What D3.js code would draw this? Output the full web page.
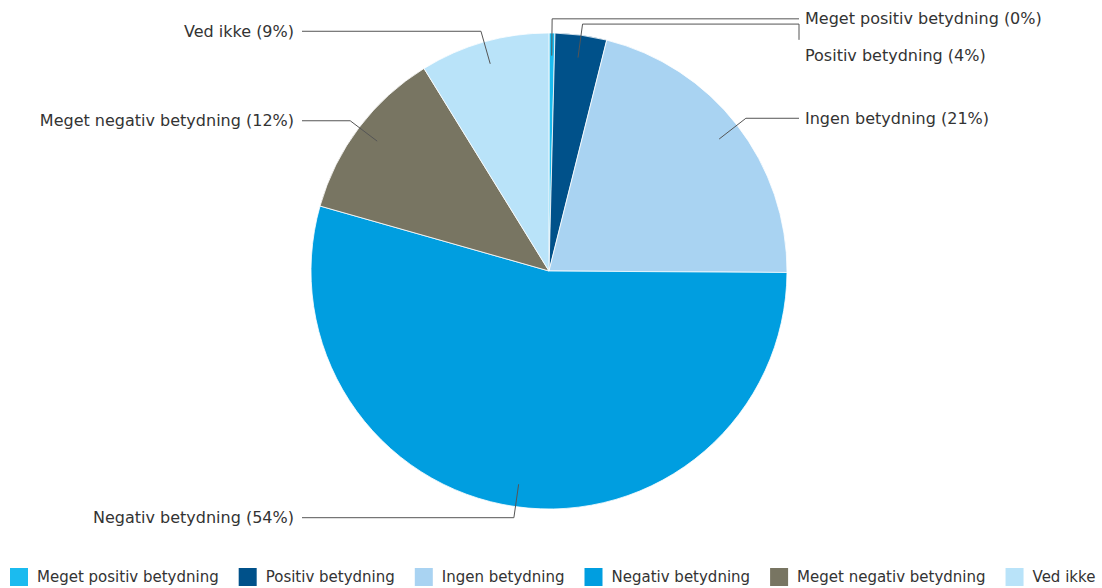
<!DOCTYPE html>
<html>
<head>
<meta charset="utf-8">
<script src="https://cdn.jsdelivr.net/npm/d3@7"></script>
<style>
  body { margin: 0; background: #fff; }
  text { font-family: "DejaVu Sans", Verdana, sans-serif; fill: #333; }
  .lbl { font-size: 16px; }
  .leg { font-size: 15px; }
</style>
</head>
<body>
<svg id="chart" width="1102" height="588"></svg>
<script>
const categories = ['Meget positiv betydning', 'Positiv betydning', 'Ingen betydning',
    'Negativ betydning', 'Meget negativ betydning', 'Ved ikke'];
const values = [0.4, 3.5, 21.2, 54.3, 11.8, 8.8];
const colors = ['#1bbbef', '#00518a', '#a9d3f2', '#009ee0', '#787562', '#b9e3f9'];

const width = 1102, height = 588;
const cx = 549, cy = 271, r = 238;

const svg = d3.select('#chart');
const total = d3.sum(values);

const data = categories.map((c, i) => ({ name: c, value: values[i], color: colors[i] }));

const pie = d3.pie().sort(null).value(d => d.value);
const arcs = pie(data);
const arc = d3.arc().innerRadius(0).outerRadius(r);

const g = svg.append('g').attr('transform', `translate(${cx},${cy})`);

g.selectAll('path')
    .data(arcs)
    .join('path')
    .attr('d', arc)
    .attr('fill', d => d.data.color)
    .attr('stroke', '#fff')
    .attr('stroke-width', 0.8);

// leader lines + labels
function pointAt(a, rad) {
    return [Math.sin(a) * rad, -Math.cos(a) * rad];
}

const labels = arcs.map(d => {
    const mid = (d.startAngle + d.endAngle) / 2;
    const p0 = pointAt(mid, r * 0.905);
    const p1 = pointAt(mid, r * 1.047);
    const right = mid < Math.PI;
    return { d, p0, p1, right, y: p1[1], text: `${d.data.name} (${Math.round(d.data.value / total * 100)}%)` };
});

// simple overlap fix for labels on the same side
[true, false].forEach(side => {
    const list = labels.filter(l => l.right === side).sort((a, b) => a.p1[1] - b.p1[1]);
    for (let i = 1; i < list.length; i++) {
        if (list[i].y - list[i - 1].y < 36) {
            if (i === 1) list[0].y -= 3;
            list[i].y = list[i - 1].y + 37;
        }
    }
});

const lineXRight = 799 - cx, lineXLeft = 302 - cx;

const lg = g.append('g');
labels.forEach(l => {
    const xEnd = l.right ? lineXRight : lineXLeft;
    const yLine = Math.min(l.p1[1], l.y);
    const pts = [l.p0, [l.p1[0], yLine], [xEnd, yLine]];
    if (l.y > l.p1[1] + 2) pts.push([xEnd, l.y - 16]);
    lg.append('path')
        .attr('d', d3.line()(pts))
        .attr('fill', 'none')
        .attr('stroke', '#555')
        .attr('stroke-width', 1);
    lg.append('text')
        .attr('class', 'lbl')
        .attr('x', l.right ? xEnd + 6 : xEnd - 8)
        .attr('y', l.y)
        .attr('dy', '0.35em')
        .attr('text-anchor', l.right ? 'start' : 'end')
        .text(l.text);
});

// legend
const legend = svg.append('g').attr('transform', 'translate(10,568)');
let lx = 0;
data.forEach(d => {
    const item = legend.append('g').attr('transform', `translate(${lx},0)`);
    item.append('rect')
        .attr('width', 18).attr('height', 18)
        .attr('fill', d.color);
    const t = item.append('text')
        .attr('class', 'leg')
        .attr('x', 27).attr('y', 9).attr('dy', '0.35em')
        .text(d.name);
    lx += 27 + t.node().getComputedTextLength() + 20;
});
</script>
</body>
</html>
